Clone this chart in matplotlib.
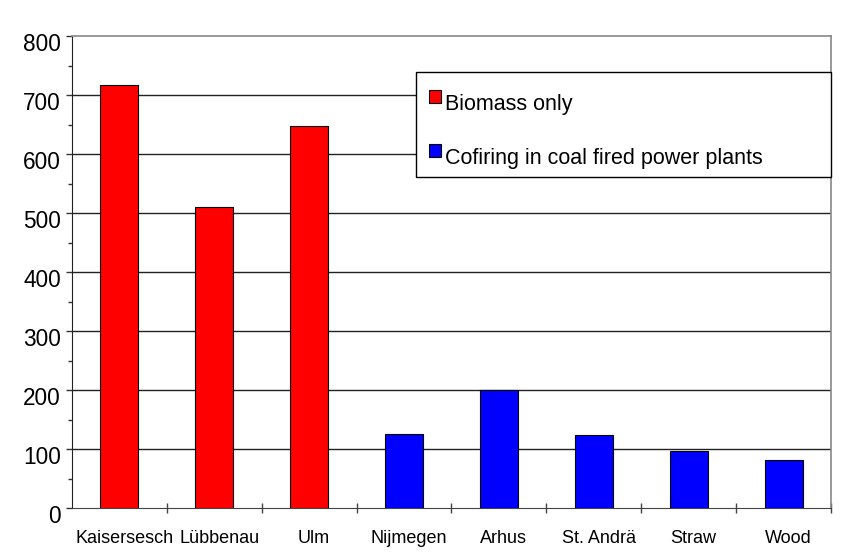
import matplotlib
matplotlib.use("Agg")
import matplotlib.pyplot as plt
from matplotlib.patches import Patch, Rectangle
from matplotlib.legend_handler import HandlerPatch
from matplotlib.ticker import MultipleLocator
from matplotlib.transforms import ScaledTranslation

plt.rcParams['font.family'] = ['Liberation Sans', 'DejaVu Sans']

categories = ["Kaisersesch", "Lübbenau", "Ulm", "Nijmegen", "Arhus", "St. Andrä", "Straw", "Wood"]
values = [717, 510, 648, 126, 200, 124, 97, 81]
groups = ["Biomass only", "Biomass only", "Biomass only",
          "Cofiring in coal fired power plants", "Cofiring in coal fired power plants",
          "Cofiring in coal fired power plants", "Cofiring in coal fired power plants",
          "Cofiring in coal fired power plants"]
legend_labels = ["Biomass only", "Cofiring in coal fired power plants"]
group_colors = {"Biomass only": "#FF0000", "Cofiring in coal fired power plants": "#0000FF"}
y_ticks = [0, 100, 200, 300, 400, 500, 600, 700, 800]

W, H = 845, 553
fig = plt.figure(figsize=(W/100, H/100), dpi=100)
L, R, T, B = 72, 831, 36, 508
ax = fig.add_axes([L/W, 1-B/H, (R-L)/W, (B-T)/H])

def ax_x(px):
    return (px - L) / (R - L)

def ax_y(py):
    return (B - py) / (B - T)

x = list(range(len(categories)))
ax.bar(x, values, width=0.4, color=[group_colors[g] for g in groups],
       edgecolor="black", linewidth=0.8, zorder=3)

ax.set_xlim(-0.5, len(categories) - 0.5)
ax.set_ylim(0, 800)
ax.set_yticks(y_ticks)
ax.yaxis.set_minor_locator(MultipleLocator(50))
ax.set_yticklabels([str(v) for v in y_ticks], fontsize=16.3)
ax.tick_params(axis='y', which='major', direction='out', length=4, width=1, pad=4, color='#333333')
ax.tick_params(axis='y', which='minor', direction='out', length=3, width=1, color='#333333')
for lab in ax.get_yticklabels():
    lab.set_transform(lab.get_transform() + ScaledTranslation(0, -0.06, fig.dpi_scale_trans))

ax.set_xticks(x)
ax.set_xticklabels(categories, fontsize=13)
ax.tick_params(axis='x', which='major', length=0, pad=16)
for lab in ax.get_xticklabels():
    lab.set_transform(lab.get_transform() + ScaledTranslation(0.05, 0, fig.dpi_scale_trans))
ax.set_xticks([i + 0.5 for i in x], minor=True)
ax.tick_params(axis='x', which='minor', direction='inout', length=7, width=1, color='#444444')

for v in y_ticks[1:-1]:
    ax.axhline(v, color='#222222', linewidth=1, zorder=1)

for side in ['top', 'right']:
    ax.spines[side].set_color('#888888')
    ax.spines[side].set_linewidth(1.2)
ax.spines['left'].set_color('#222222')
ax.spines['bottom'].set_color('#444444')

# legend box
ax.add_patch(Rectangle((ax_x(416), ax_y(177)), ax_x(831) - ax_x(416), ax_y(72) - ax_y(177),
                       transform=ax.transAxes, facecolor='white', edgecolor='black',
                       linewidth=1, zorder=4, clip_on=False))

def raised_square(legend, orig_handle, xdescent, ydescent, width, height, fontsize):
    return Rectangle((-xdescent, -ydescent + 0.28 * fontsize), width, height)

handles = [Patch(facecolor=group_colors[l], edgecolor='black', linewidth=0.8) for l in legend_labels]
leg = ax.legend(handles, legend_labels, loc='upper left',
                bbox_to_anchor=(ax_x(429), ax_y(94)), fontsize=15.5,
                frameon=False, handlelength=0.56, handleheight=0.56, handletextpad=0.2,
                labelspacing=1.54, borderpad=0, borderaxespad=0,
                handler_map={Patch: HandlerPatch(patch_func=raised_square)})
leg.set_zorder(5)

fig.savefig("out.png", dpi=100)
